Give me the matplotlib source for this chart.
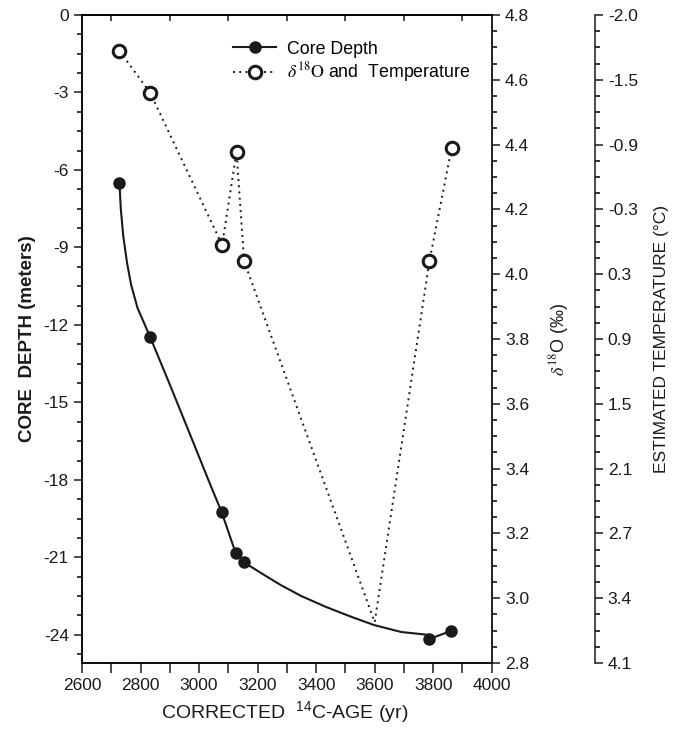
import matplotlib
matplotlib.use("Agg")
import matplotlib.pyplot as plt
from matplotlib.lines import Line2D
from matplotlib.ticker import MultipleLocator, FixedLocator, FormatStrFormatter

matplotlib.rc("font", family=["Liberation Sans", "DejaVu Sans"], size=12)
matplotlib.rc("mathtext", fontset="stix")
matplotlib.rc("axes", linewidth=1.1, unicode_minus=False)

ink = "#1a1a1a"
tick_fs = 12.5

# Core depth samples (filled circles)
depth_age = [2728, 2833, 3077, 3125, 3152, 3787, 3860]
depth_m = [-6.5, -12.47, -19.24, -20.83, -21.18, -24.16, -23.85]

# Core-depth curve
curve_age = [2728, 2733, 2741, 2754, 2768, 2790, 2833, 2902, 2971, 3039, 3077,
             3125, 3152, 3211, 3279, 3348, 3434, 3520, 3598, 3691, 3784]
curve_m = [-6.5, -7.55, -8.55, -9.6, -10.45, -11.35, -12.47, -14.36, -16.29,
           -18.20, -19.24, -20.83, -21.18, -21.60, -22.07, -22.49, -22.92,
           -23.30, -23.62, -23.89, -24.0]
tail_age = [3787, 3860]
tail_m = [-24.16, -23.85]

# d18O samples (open circles)
o18_age = [2728, 2833, 3079, 3128, 3154, 3600, 3787, 3863]
o18_val = [4.689, 4.56, 4.09, 4.378, 4.04, 2.926, 4.04, 4.39]

# Temperature scale labels, aligned with d18O ticks 4.8 ... 2.8
o18_ticks = [4.8, 4.6, 4.4, 4.2, 4.0, 3.8, 3.6, 3.4, 3.2, 3.0, 2.8]
temp_labels = ["-2.0", "-1.5", "-0.9", "-0.3", "0.3", "0.9", "1.5", "2.1",
               "2.7", "3.4", "4.1"]

fig = plt.figure(figsize=(6.83, 7.29), dpi=100)
ax = fig.add_axes([0.120, 0.0905, 0.600, 0.889])

ax.plot(curve_age, curve_m, "-", color=ink, lw=1.5, zorder=2,
        solid_joinstyle="round")
ax.plot(tail_age, tail_m, "-", color=ink, lw=1.5, zorder=2)
ax.plot(depth_age, depth_m, "o", color=ink, ms=8, zorder=3)

ax.set_xlim(2600, 4000)
ax.set_ylim(-25.09, 0)
ax.xaxis.set_major_locator(MultipleLocator(200))
ax.xaxis.set_minor_locator(MultipleLocator(100))
ax.yaxis.set_major_locator(MultipleLocator(3))
ax.yaxis.set_minor_locator(MultipleLocator(0.75))
ax.tick_params(axis="x", which="both", direction="out", length=7, width=1.1,
               top=False, colors=ink, labelsize=tick_fs)
ax.tick_params(axis="y", which="major", direction="out", length=6, width=1.1,
               right=False, colors=ink, labelsize=tick_fs)
ax.tick_params(axis="y", which="minor", direction="out", length=3.5, width=1.1,
               right=False)
for s in ax.spines.values():
    s.set_color(ink)

top = ax.secondary_xaxis("top")
top.xaxis.set_major_locator(FixedLocator([2700, 2900, 3100, 3300, 3500, 3700, 3900]))
top.tick_params(direction="in", length=4, width=1.1, labeltop=False, colors=ink)
top.spines["top"].set_linewidth(1.1)

ax.set_xlabel(r"CORRECTED  $\mathregular{^{14}}$C-AGE (yr)", fontsize=14, color=ink)
ax.xaxis.set_label_coords(0.495, -0.056)
ax.set_ylabel("CORE  DEPTH (meters)", fontsize=13.5, fontweight="bold", color=ink)
ax.yaxis.set_label_coords(-0.112, 0.5)

# d18O axis
ax2 = ax.twinx()
ax2.plot(o18_age, o18_val, color=ink, lw=1.4, ls=(0, (1, 2.2)), zorder=2)
ax2.plot(o18_age[:5] + o18_age[6:], o18_val[:5] + o18_val[6:], "o",
         mfc="white", mec=ink, mew=2.2, ms=9, zorder=3)
ax2.set_ylim(2.8, 4.8)
ax2.yaxis.set_major_locator(MultipleLocator(0.2))
ax2.yaxis.set_minor_locator(MultipleLocator(0.05))
ax2.yaxis.set_major_formatter(FormatStrFormatter("%.1f"))
ax2.tick_params(axis="y", which="major", direction="out", length=6, width=1.1,
                colors=ink, labelsize=tick_fs)
ax2.tick_params(axis="y", which="minor", direction="out", length=3.5, width=1.1)
ax2.spines["right"].set_color(ink)
ax2.set_ylabel(r"$\delta^{18}$O (‰)", fontsize=13, color=ink)
ax2.yaxis.set_label_coords(1.135, 0.5)

# Temperature axis
ax3 = ax.twinx()
ax3.spines["right"].set_position(("axes", 1.251))
for k in ["top", "bottom", "left"]:
    ax3.spines[k].set_visible(False)
ax3.spines["right"].set_color(ink)
ax3.set_ylim(2.8, 4.8)
ax3.yaxis.set_major_locator(FixedLocator(o18_ticks))
ax3.set_yticklabels(temp_labels)
ax3.yaxis.set_minor_locator(MultipleLocator(0.05))
ax3.tick_params(axis="y", which="major", direction="out", length=6, width=1.1,
                colors=ink, labelsize=tick_fs)
ax3.tick_params(axis="y", which="minor", direction="out", length=3.5, width=1.1)
ax3.set_ylabel("ESTIMATED TEMPERATURE (°C)", fontsize=12.5, color=ink)
ax3.yaxis.set_label_coords(1.395, 0.5)

handles = [
    Line2D([], [], color=ink, lw=1.5, marker="o", ms=8),
    Line2D([], [], color=ink, lw=1.4, ls=(0, (1, 2.2)), marker="o",
           mfc="white", mec=ink, mew=2.2, ms=9),
]
labels = ["Core Depth", r"$\delta^{18}\mathrm{O}$ and  Temperature"]
ax3.legend(handles, labels, loc="upper left", bbox_to_anchor=(0.33, 0.985),
           frameon=False, fontsize=12.8, handlelength=2.4, handletextpad=0.6,
           labelspacing=0.15)

fig.savefig("out.png", dpi=100)
